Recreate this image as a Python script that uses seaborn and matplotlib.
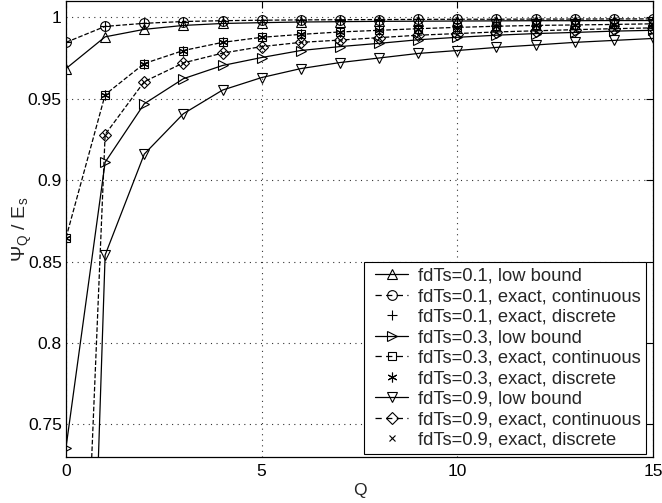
import numpy as np
import pandas as pd
import matplotlib
matplotlib.use("Agg")
import matplotlib.pyplot as plt
from matplotlib.lines import Line2D
from matplotlib.legend_handler import HandlerLine2D
import seaborn as sns

# ---- data ----
Q = list(range(16))

low_01 = [0.9685, 0.988, 0.9926, 0.995, 0.9962, 0.9967, 0.9971, 0.9973, 0.9975,
          0.9976, 0.9977, 0.9978, 0.9979, 0.9979, 0.998, 0.998]
cont_01 = [0.9846, 0.9944, 0.9963, 0.9974, 0.9979, 0.9982, 0.9984, 0.9985, 0.9986,
           0.9987, 0.9988, 0.9988, 0.9989, 0.9989, 0.999, 0.999]
disc_01 = [0.9846, 0.9944, 0.9963, 0.9974, 0.9979, 0.9982, 0.9984, 0.9985, 0.9986,
           0.9987, 0.9988, 0.9988, 0.9989, 0.9989, 0.999, 0.999]

low_03 = [0.7358, 0.911, 0.9469, 0.9623, 0.9704, 0.9753, 0.9796, 0.982, 0.984,
          0.9862, 0.9877, 0.989, 0.990, 0.9907, 0.9915, 0.992]
cont_03 = [0.8646, 0.9525, 0.9716, 0.9796, 0.9846, 0.9877, 0.9895, 0.991, 0.992,
           0.993, 0.9938, 0.9945, 0.995, 0.9953, 0.9956, 0.996]
disc_03 = [0.8646, 0.9525, 0.9716, 0.9796, 0.9846, 0.9877, 0.9895, 0.991, 0.992,
           0.993, 0.9938, 0.9945, 0.995, 0.9953, 0.9956, 0.996]

low_09 = [0.13, 0.854, 0.916, 0.9408, 0.9553, 0.963, 0.9685, 0.9722, 0.975,
          0.9778, 0.9796, 0.9815, 0.983, 0.9846, 0.9858, 0.987]
cont_09 = [0.35, 0.928, 0.9605, 0.972, 0.978, 0.982, 0.9846, 0.986, 0.9875,
           0.989, 0.990, 0.991, 0.9917, 0.9924, 0.993, 0.9935]
disc_09 = [0.35, 0.928, 0.9605, 0.972, 0.978, 0.982, 0.9846, 0.986, 0.9875,
           0.989, 0.990, 0.991, 0.9917, 0.9924, 0.993, 0.9935]

labels = ["fdTs=0.1, low bound", "fdTs=0.1, exact, continuous", "fdTs=0.1, exact, discrete",
          "fdTs=0.3, low bound", "fdTs=0.3, exact, continuous", "fdTs=0.3, exact, discrete",
          "fdTs=0.9, low bound", "fdTs=0.9, exact, continuous", "fdTs=0.9, exact, discrete"]

sns.set_theme(style="white")
plt.rcParams["font.family"] = ["Liberation Sans", "DejaVu Sans"]
plt.rcParams["mathtext.fontset"] = "custom"
plt.rcParams["mathtext.rm"] = "Liberation Sans"
plt.rcParams["mathtext.it"] = "Liberation Sans"
plt.rcParams["mathtext.default"] = "regular"

W, H = 662, 503
fig = plt.figure(figsize=(W / 100, H / 100), dpi=100)
ax_l, ax_r, ax_t, ax_b = 66, 653, 1, 457
ax = fig.add_axes([ax_l / W, 1 - ax_b / H, (ax_r - ax_l) / W, (ax_b - ax_t) / H])

series = [
    (low_01, "^", "-", 7), (cont_01, "o", "--", 7), (disc_01, "+", "none", 7),
    (low_03, ">", "-", 7), (cont_03, "s", "--", 6), (disc_03, (6, 2, 0), "none", 7),
    (low_09, "v", "-", 7), (cont_09, "D", "--", 6), (disc_09, "x", "none", 5),
]

handles = []
for (vals, mk, ls, ms), lab in zip(series, labels):
    df = pd.DataFrame({"Q": Q, "v": vals})
    sns.lineplot(data=df, x="Q", y="v", ax=ax, color="black", linestyle=ls,
                 linewidth=0.9, marker=mk, markersize=ms, markerfacecolor="none",
                 markeredgecolor="black", markeredgewidth=0.8,
                 dashes=False if ls != "--" else (6, 4), legend=False,
                 sort=False, estimator=None)
    kw = dict(color="black", linestyle=ls, linewidth=0.9, marker=mk, markersize=ms,
              markerfacecolor="none", markeredgecolor="black", markeredgewidth=0.8)
    if ls == "--":
        kw["dashes"] = (5, 3.5)
    handles.append(Line2D([], [], **kw))

ax.set_xlim(0, 15)
ax.set_ylim(0.73, 1.01)
ax.set_xticks([0, 5, 10, 15])
ax.set_xticklabels(["0", "5", "10", "15"])
ax.set_yticks([0.75, 0.8, 0.85, 0.9, 0.95, 1.0])
ax.set_yticklabels(["0.75", "0.8", "0.85", "0.9", "0.95", "1"])
ax.grid(True, linestyle=(0, (1, 4)), color="black", linewidth=0.8, alpha=0.8)
ax.tick_params(direction="in", top=True, right=True, length=5, width=0.8,
               labelsize=12.5, colors="black", pad=3)
ax.tick_params(axis="x", pad=5)
for sp in ax.spines.values():
    sp.set_color("black")
    sp.set_linewidth(0.9)

ax.set_xlabel("Q", fontsize=12.5, labelpad=3)
ax.set_ylabel(r"$\Psi_Q\ /\ E_s$", fontsize=14)
ax.yaxis.set_label_coords(-0.055, 0.5)

leg_right = (646 - ax_l) / (ax_r - ax_l)
leg_bottom = (ax_b - 454) / (ax_b - ax_t)
leg = ax.legend(handles, labels, loc="lower right", fontsize=13.2, frameon=True,
                fancybox=False, edgecolor="black", framealpha=1,
                bbox_to_anchor=(leg_right, leg_bottom), borderaxespad=0,
                handlelength=2.13, handletextpad=0.5,
                labelspacing=0.19, borderpad=0.3,
                handler_map={Line2D: HandlerLine2D(xpad=0.28)})
leg.get_frame().set_linewidth(0.8)

fig.savefig("out.png", dpi=100)
